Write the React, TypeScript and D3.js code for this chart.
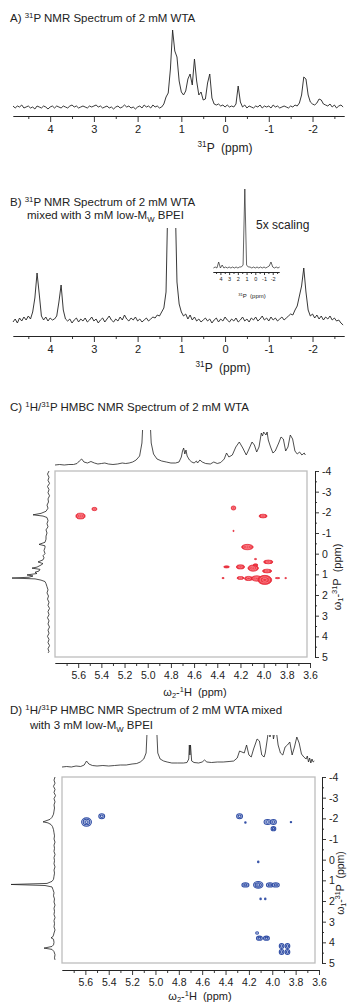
import { useRef, useEffect } from "react";
import * as d3 from "d3";

const FONT = "'Liberation Sans', Arial, Helvetica, sans-serif";
const INK = "#222";

// A/B: 31P 1D spectra, one value every 0.05 ppm from 4.85 ppm down to -2.70 ppm
const p1dStart = 4.85;
const p1dStep = 0.05;
const p1dTicks = [4, 3, 2, 1, 0, -1, -2];
const p1dMinor = [4.5, 3.5, 2.5, 1.5, 0.5, -0.5, -1.5, -2.5];

const wtaSpectrum = [
	1, -1, 1, 0, 2, -1, 0, 1, -1, 0,
	-2, 1, 0, -1, 1, 0, -2, 0, 1, -1,
	1, 0, -1, 1, 0, -1, 1, 2, 0, 1,
	-1, 0, 1, 0, -1, 1, 0, 1, 2, 0,
	1, -1, 0, 1, -1, 0, -2, 0, 1, -1,
	0, 2, 0, 1, -1, 0, -2, 0, 1, -1,
	2, 0, 1, -1, 2, 0, 1, -1, 0, 3,
	10, 14, 38, 77, 56, 50, 26, 15, 12, 16,
	28, 33, 22, 48, 26, 12, 15, 7, 8, 24,
	33, 9, 3, 2, 3, 1, 2, 0, 2, 0,
	1, 0, 3, 21, 5, 0, 2, -1, 1, 0,
	-1, 1, 0, 2, -1, 1, 0, 1, -1, 2,
	0, 1, -1, 0, 1, 0, -1, 1, 0, 2,
	1, 4, 12, 30, 28, 12, 5, 3, 2, 4,
	8, 7, 3, 2, 1, 3, 0, 2, -1, 1,
	2, 0,
];

const bpeiSpectrum = [
	0, 3, -1, 4, 1, 5, 2, 6, 3, 10,
	24, 49, 28, 6, 2, 5, 1, 4, 2, 3,
	6, 20, 37, 12, 3, 1, 3, -1, 2, 4,
	0, 3, 1, 4, 0, 2, 5, 1, 3, -1,
	2, 4, 0, 3, 6, 2, 0, 3, 1, 5,
	2, 7, 3, 1, 4, 2, 5, 1, 3, 0,
	2, 4, 1, 3, 5, 4, 7, 6, 10, 14,
	30, 140, 400, 400, 140, 40, 18, 10, 6, 8,
	3, 7, 2, 5, 1, 3, 0, 2, 4, 1,
	3, -1, 2, 4, 0, 3, 1, 5, 2, 0,
	3, 1, 4, 0, 2, 5, 1, 3, 0, 4,
	2, 5, 1, 3, 6, 2, 4, 1, 5, 2,
	4, 1, 3, 5, 2, 4, 6, 8, 7, 12,
	16, 26, 36, 54, 30, 12, 6, 8, 4, 7,
	3, 6, 2, 5, 3, 6, 2, 4, 1, 2,
	-1, -3,
];

// B inset (5x scaling): one value every 0.2 ppm from 4.8 ppm
const insetStart = 4.8;
const insetStep = 0.2;
const insetSpectrum = [
	0, 1, 0, 6, 0, 3, 0, 1, 0, 1, 0, 1, 0, 1, 0, 1, 1, 3, 79, 3,
	1, 1, 0, 1, 0, 1, 0, 1, 0, 1, 0, 1, 2, 6, 1, 0, 1, 0, 1,
];

// C/D: HMBC projections, [ppm, intensity]
const wtaHProj = [
	[5.8, 0], [5.76, 0.5], [5.72, 0], [5.68, 0.5], [5.64, 0.5], [5.61, 1.5], [5.59, 4], [5.57, 6],
	[5.55, 3], [5.52, 2], [5.49, 3.5], [5.46, 2], [5.43, 1], [5.4, 1.5], [5.37, 2], [5.34, 1],
	[5.3, 0.5], [5.26, 1], [5.22, 2], [5.19, 1.5], [5.16, 2], [5.13, 3], [5.1, 5], [5.07, 9],
	[5.05, 22], [5.03, 70], [5.02, 200], [5.0, 200], [4.99, 70], [4.97, 22], [4.95, 11], [4.92, 6],
	[4.88, 4], [4.84, 3], [4.8, 2], [4.76, 2], [4.73, 3], [4.71, 8], [4.7, 14], [4.69, 17],
	[4.68, 11], [4.67, 15], [4.66, 9], [4.64, 5], [4.62, 3], [4.6, 2], [4.58, 4], [4.57, 2],
	[4.55, 5], [4.53, 3], [4.5, 1.5], [4.46, 1], [4.43, 3], [4.4, 1.5], [4.37, 2.5], [4.34, 6],
	[4.32, 12], [4.3, 8], [4.27, 10], [4.24, 18], [4.21, 23], [4.18, 17], [4.15, 10], [4.13, 15],
	[4.1, 23], [4.08, 20], [4.06, 13], [4.04, 18], [4.02, 32], [4.01, 29], [4.0, 33], [3.98, 30],
	[3.97, 33], [3.96, 25], [3.94, 18], [3.92, 12], [3.9, 14], [3.87, 22], [3.85, 28], [3.83, 26],
	[3.81, 14], [3.79, 18], [3.77, 30], [3.75, 26], [3.73, 14], [3.71, 11], [3.69, 13], [3.67, 10],
	[3.65, 12], [3.64, 10],
];

const wtaPProj = [
	[-4.0, 0], [-3.85, 1.5], [-3.7, 0], [-3.55, 1], [-3.4, -0.5], [-3.25, 1.5], [-3.1, 0], [-2.95, 1],
	[-2.8, -0.5], [-2.65, 1], [-2.5, 0.5], [-2.35, 2], [-2.2, 1], [-2.05, 3], [-1.95, 8], [-1.88, 16],
	[-1.82, 6], [-1.75, 2], [-1.6, 1], [-1.45, 2], [-1.3, 1], [-1.15, 3], [-1.0, 2], [-0.85, 3],
	[-0.7, 3], [-0.55, 4], [-0.45, 10], [-0.38, 4], [-0.3, 4], [-0.15, 5], [0.0, 4], [0.1, 6],
	[0.2, 5], [0.3, 6], [0.4, 11], [0.48, 6], [0.55, 8], [0.65, 12], [0.7, 17], [0.76, 9],
	[0.84, 10], [0.9, 14], [0.96, 12], [1.03, 22], [1.08, 16], [1.14, 20], [1.18, 37], [1.22, 14],
	[1.28, 8], [1.35, 4], [1.45, 3], [1.6, 2], [1.75, 1], [1.9, 2], [2.05, 0.5], [2.2, 1.5],
	[2.35, 0], [2.5, 1], [2.65, -0.5], [2.8, 1], [2.95, 0], [3.1, 1.5], [3.25, 0], [3.4, 1],
	[3.55, -0.5], [3.7, 1], [3.85, 0], [4.0, 1.5], [4.15, 0], [4.3, 1], [4.45, -0.5], [4.6, 1],
	[4.75, 0], [4.8, 1],
];

const bpeiHProj = [
	[5.8, 0], [5.76, 0.5], [5.72, 0], [5.68, 1], [5.64, 0.5], [5.61, 2], [5.59, 6], [5.57, 3],
	[5.54, 1.5], [5.5, 1], [5.45, 1.5], [5.4, 1], [5.35, 1.5], [5.3, 2], [5.25, 2], [5.2, 3],
	[5.16, 3.5], [5.13, 5], [5.1, 8], [5.08, 14], [5.07, 40], [5.06, 200], [5.0, 200], [4.99, 40],
	[4.98, 14], [4.96, 8], [4.93, 6], [4.9, 5], [4.86, 4], [4.81, 4], [4.76, 4], [4.73, 4.5],
	[4.715, 8], [4.71, 22], [4.705, 12], [4.7, 22], [4.69, 6], [4.67, 4.5], [4.63, 4], [4.6, 5],
	[4.58, 7], [4.56, 5], [4.52, 4.5], [4.47, 5], [4.42, 5], [4.37, 5.5], [4.33, 6], [4.3, 9],
	[4.28, 16], [4.26, 15], [4.24, 14], [4.22, 22], [4.2, 12], [4.18, 10], [4.16, 18], [4.13, 28],
	[4.11, 26], [4.09, 12], [4.07, 10], [4.06, 14], [4.04, 30], [4.03, 40], [4.02, 30], [4.0, 40],
	[3.99, 28], [3.97, 40], [3.95, 22], [3.93, 14], [3.91, 12], [3.89, 20], [3.87, 22], [3.85, 25],
	[3.83, 12], [3.81, 20], [3.79, 30], [3.77, 24], [3.75, 13], [3.73, 10], [3.71, 8], [3.7, 11],
	[3.69, 5], [3.68, 9], [3.67, 4], [3.66, 8], [3.65, 5], [3.64, 6],
];

const bpeiPProj = [
	[-4.0, 0], [-3.85, 1], [-3.7, 0], [-3.55, 1.5], [-3.4, 0], [-3.25, 1], [-3.1, -0.5], [-2.95, 1],
	[-2.8, 0], [-2.65, 1], [-2.5, 0.5], [-2.35, 1], [-2.2, 1.5], [-2.05, 3], [-1.95, 5], [-1.88, 9],
	[-1.83, 12], [-1.78, 7], [-1.7, 4], [-1.6, 2.5], [-1.45, 1.5], [-1.3, 1], [-1.15, 0.5], [-1.0, 1],
	[-0.85, 0], [-0.7, 1], [-0.55, 0.5], [-0.4, 1], [-0.25, 0], [-0.1, 1], [0.05, 0.5], [0.2, 1],
	[0.35, 0], [0.5, 1], [0.65, 0.5], [0.8, 1], [0.95, 1.5], [1.05, 3], [1.15, 8], [1.2, 44],
	[1.25, 10], [1.32, 3], [1.45, 2], [1.6, 1], [1.75, 1.5], [1.9, 0.5], [2.05, 1], [2.2, 0],
	[2.35, 1], [2.5, 0.5], [2.65, 1], [2.8, 0], [2.95, 1], [3.1, 0.5], [3.25, 1], [3.4, 0],
	[3.55, 1], [3.65, 1.5], [3.72, 2], [3.78, 4], [3.85, 1.5], [4.0, 1], [4.12, 1.5], [4.2, 3],
	[4.28, 11], [4.34, 3], [4.45, 1], [4.6, 0], [4.75, 0.5], [4.85, 0],
];

// cross peaks: [1H ppm, 31P ppm, 1H half width, 31P half width, contour levels]
const wtaCross = [
	[5.58, -1.82, 0.04, 0.14, 3],
	[5.46, -2.16, 0.022, 0.08, 2],
	[4.26, -2.21, 0.02, 0.1, 2],
	[4.005, -1.82, 0.035, 0.09, 2],
	[4.26, -1.1, 0.006, 0.03, 1],
	[4.14, -0.32, 0.05, 0.13, 3],
	[4.07, 0.26, 0.01, 0.03, 1],
	[3.96, 0.4, 0.04, 0.09, 2],
	[4.32, 0.64, 0.025, 0.05, 1],
	[4.2, 0.64, 0.035, 0.1, 2],
	[4.09, 0.7, 0.045, 0.15, 3],
	[4.07, 0.55, 0.02, 0.06, 1],
	[3.97, 0.84, 0.04, 0.09, 2],
	[4.35, 1.18, 0.01, 0.03, 1],
	[4.2, 1.18, 0.03, 0.07, 2],
	[4.13, 1.2, 0.035, 0.1, 2],
	[4.06, 1.2, 0.045, 0.13, 3],
	[3.99, 1.27, 0.06, 0.22, 3],
	[3.88, 1.18, 0.02, 0.03, 1],
	[3.81, 1.18, 0.008, 0.02, 1],
];

const bpeiCross = [
	[5.59, -1.82, 0.042, 0.2, 3],
	[5.46, -2.1, 0.025, 0.12, 2],
	[4.28, -2.1, 0.025, 0.12, 2],
	[4.23, -1.8, 0.006, 0.03, 1],
	[4.04, -1.82, 0.03, 0.12, 2],
	[3.99, -1.82, 0.025, 0.12, 2],
	[3.99, -1.5, 0.02, 0.1, 2],
	[3.84, -1.82, 0.006, 0.03, 1],
	[4.12, 0.11, 0.006, 0.04, 1],
	[4.23, 1.22, 0.03, 0.1, 2],
	[4.12, 1.22, 0.04, 0.16, 3],
	[4.02, 1.22, 0.03, 0.1, 2],
	[3.97, 1.22, 0.03, 0.1, 2],
	[4.1, 1.9, 0.006, 0.04, 1],
	[4.06, 1.9, 0.006, 0.04, 1],
	[4.13, 3.55, 0.012, 0.06, 1],
	[4.11, 3.8, 0.025, 0.1, 2],
	[4.05, 3.8, 0.025, 0.1, 2],
	[3.92, 4.18, 0.02, 0.12, 2],
	[3.87, 4.18, 0.02, 0.12, 2],
	[3.92, 4.47, 0.02, 0.12, 2],
	[3.87, 4.47, 0.02, 0.12, 2],
];

const hTicks = [5.6, 5.4, 5.2, 5.0, 4.8, 4.6, 4.4, 4.2, 4.0, 3.8, 3.6];
const hMinor = [5.7, 5.5, 5.3, 5.1, 4.9, 4.7, 4.5, 4.3, 4.1, 3.9, 3.7];
const pTicks2d = [-4, -3, -2, -1, 0, 1, 2, 3, 4, 5];
const pMinor2d = [-3.5, -2.5, -1.5, -0.5, 0.5, 1.5, 2.5, 3.5, 4.5];

function addText(parent, x, y, parts, size, anchor = "start", transform = null) {
	const t = parent
		.append("text")
		.attr("x", x)
		.attr("y", y)
		.attr("font-family", FONT)
		.attr("font-size", size)
		.attr("fill", INK)
		.attr("text-anchor", anchor)
		.style("white-space", "pre");
	if (transform) t.attr("transform", transform);
	let shift = 0;
	parts.forEach((part) => {
		const [str, kind] = typeof part === "string" ? [part, ""] : part;
		const target = kind === "sup" ? -size * 0.38 : kind === "sub" ? size * 0.22 : 0;
		const ts = t.append("tspan").text(str).attr("dy", target - shift);
		if (kind) ts.attr("font-size", size * 0.68);
		shift = target;
	});
	return t;
}

function styleAxis(g, fontSize) {
	g.select(".domain").attr("stroke", INK).attr("stroke-width", 0.9);
	g.selectAll(".tick line").attr("stroke", INK).attr("stroke-width", 0.9);
	g.selectAll("text").attr("font-family", FONT).attr("font-size", fontSize).attr("fill", INK);
}

function bottomAxis(svg, scale, y, major, minor, majorLen, minorLen, pad, fontSize, fmt) {
	const gMinor = svg
		.append("g")
		.attr("transform", `translate(0,${y})`)
		.call(d3.axisBottom(scale).tickValues(minor).tickSize(minorLen).tickSizeOuter(0).tickFormat(() => ""));
	const gMajor = svg
		.append("g")
		.attr("transform", `translate(0,${y})`)
		.call(d3.axisBottom(scale).tickValues(major).tickSize(majorLen).tickSizeOuter(0).tickPadding(pad).tickFormat(fmt));
	styleAxis(gMinor, fontSize);
	styleAxis(gMajor, fontSize);
}

function rightAxis(svg, scale, x, fontSize) {
	const gMinor = svg
		.append("g")
		.attr("transform", `translate(${x},0)`)
		.call(d3.axisRight(scale).tickValues(pMinor2d).tickSize(2).tickSizeOuter(0).tickFormat(() => ""));
	const gMajor = svg
		.append("g")
		.attr("transform", `translate(${x},0)`)
		.call(d3.axisRight(scale).tickValues(pTicks2d).tickSize(4).tickSizeOuter(0).tickPadding(3).tickFormat((d) => String(d)));
	styleAxis(gMinor, fontSize);
	styleAxis(gMajor, fontSize);
}

function clipRect(defs, id, x, y, w, h) {
	defs.append("clipPath").attr("id", id).append("rect").attr("x", x).attr("y", y).attr("width", w).attr("height", h);
	return `url(#${id})`;
}

function tracePath(svg, pts, xf, yf, width, clip) {
	const p = svg
		.append("path")
		.datum(pts)
		.attr("fill", "none")
		.attr("stroke", INK)
		.attr("stroke-width", width)
		.attr("stroke-linejoin", "round")
		.attr("d", d3.line().x(xf).y(yf));
	if (clip) p.attr("clip-path", clip);
}

function crossPeaks(svg, peaks, xs, ys, colour) {
	const g = svg.append("g");
	peaks.forEach(([h, p, wh, wp, lv]) => {
		const cx = xs(h);
		const cy = ys(p);
		const rx = Math.abs(xs(h + wh) - cx);
		const ry = Math.abs(ys(p + wp) - cy);
		for (let k = lv; k >= 1; k--) {
			const e = g
				.append("ellipse")
				.attr("cx", cx)
				.attr("cy", cy)
				.attr("rx", Math.max(0.6, (rx * k) / lv))
				.attr("ry", Math.max(0.6, (ry * k) / lv));
			if (colour === "red") {
				e.attr("fill", k === lv ? "#ee3a45" : "none")
					.attr("stroke", k === lv ? "#e3202f" : "#ff9ca4")
					.attr("stroke-width", k === lv ? 0.7 : 0.6);
			} else {
				e.attr("fill", k === lv ? "#dfe5f5" : "none").attr("stroke", "#3350a6").attr("stroke-width", 1.1);
			}
		}
	});
}

export default function App() {
	const svgRef = useRef(null);

	useEffect(() => {
		const svg = d3.select(svgRef.current);
		svg.selectAll("*").remove();
		const defs = svg.append("defs");

		// ---------- A ----------
		const x1d = d3.scaleLinear().domain([4.85, -2.72]).range([13, 344]);
		const yA = d3.scaleLinear().domain([0, 100]).range([107, 7]);
		addText(svg, 10, 22, ["A) ", ["31", "sup"], "P NMR Spectrum of 2 mM WTA"], 11.5);
		tracePath(
			svg,
			wtaSpectrum.map((v, i) => [p1dStart - i * p1dStep, v]),
			(d) => x1d(d[0]),
			(d) => yA(d[1]),
			0.9,
			null
		);
		bottomAxis(svg, x1d, 116, p1dTicks, p1dMinor, 6, 3, 3, 11, (d) => String(d));
		addText(svg, 225, 152, [["31", "sup"], "P  (ppm)"], 12, "middle");

		// ---------- B ----------
		const yB = d3.scaleLinear().domain([0, 100]).range([322, 222]);
		addText(svg, 10, 206, ["B) ", ["31", "sup"], "P NMR Spectrum of 2 mM WTA"], 11.5);
		addText(svg, 27, 219, ["mixed with 3 mM low-M", ["W", "sub"], " BPEI"], 11.5);
		const clipB = clipRect(defs, "clipB", 0, 228, 347, 110);
		tracePath(
			svg,
			bpeiSpectrum.map((v, i) => [p1dStart - i * p1dStep, v]),
			(d) => x1d(d[0]),
			(d) => yB(d[1]),
			0.9,
			clipB
		);
		bottomAxis(svg, x1d, 336, p1dTicks, p1dMinor, 6, 3, 3, 11, (d) => String(d));
		addText(svg, 223, 372, [["31", "sup"], "P  (ppm)"], 12, "middle");

		// inset
		const xIn = d3.scaleLinear().domain([4.85, -2.72]).range([213, 279]);
		const yIn = d3.scaleLinear().domain([0, 100]).range([268, 168]);
		tracePath(
			svg,
			insetSpectrum.map((v, i) => [insetStart - i * insetStep, v]),
			(d) => xIn(d[0]),
			(d) => yIn(d[1]),
			0.7,
			null
		);
		bottomAxis(svg, xIn, 272, p1dTicks, p1dMinor, 3, 2, 2, 5.5, (d) => String(d));
		addText(svg, 252, 298, [["31", "sup"], "P  (ppm)"], 6, "middle");
		addText(svg, 256, 229, ["5x scaling"], 12);

		// ---------- C ----------
		addText(svg, 10, 411, ["C) ", ["1", "sup"], "H/", ["31", "sup"], "P HMBC NMR Spectrum of 2 mM WTA"], 11.5);
		const hC = d3.scaleLinear().domain([5.8, 3.6]).range([55, 310]);
		const pC = d3.scaleLinear().domain([-4, 5]).range([471, 657]);
		const clipC = clipRect(defs, "clipC", 0, 430, 347, 40);
		tracePath(svg, wtaHProj, (d) => hC(d[0]), (d) => 465 - d[1], 0.8, clipC);
		tracePath(svg, wtaPProj, (d) => 49 - d[1], (d) => pC(d[0]), 0.8, null);
		svg.append("rect").attr("x", 55).attr("y", 471).attr("width", 252).attr("height", 186)
			.attr("fill", "none").attr("stroke", "#bdbdbd").attr("stroke-width", 1.3);
		crossPeaks(svg, wtaCross, hC, pC, "red");
		bottomAxis(svg, hC, 663, hTicks, hMinor, 5, 3, 4, 10.5, d3.format(".1f"));
		rightAxis(svg, pC, 315, 10.5);
		addText(svg, 195, 696, ["\u03c9", ["2", "sub"], "-", ["1", "sup"], "H  (ppm)"], 11, "middle");
		addText(svg, 0, 0, ["\u03c9", ["1", "sub"], "-", ["31", "sup"], "P  (ppm)"], 11, "middle", "translate(341,577) rotate(-90)");

		// ---------- D ----------
		addText(svg, 10, 714, ["D) ", ["1", "sup"], "H/", ["31", "sup"], "P HMBC NMR Spectrum of 2 mM WTA mixed"], 11.5);
		addText(svg, 30, 729, ["with 3 mM low-M", ["W", "sub"], " BPEI"], 11.5);
		const hD = d3.scaleLinear().domain([5.8, 3.6]).range([62, 319]);
		const pD = d3.scaleLinear().domain([-4, 5]).range([777, 963]);
		const clipD = clipRect(defs, "clipD", 0, 735, 347, 40);
		tracePath(svg, bpeiHProj, (d) => hD(d[0]), (d) => 767 - d[1], 0.8, clipD);
		tracePath(svg, bpeiPProj, (d) => 55 - d[1], (d) => pD(d[0]), 0.8, null);
		svg.append("rect").attr("x", 62).attr("y", 777).attr("width", 253).attr("height", 186)
			.attr("fill", "none").attr("stroke", "#bdbdbd").attr("stroke-width", 1.3);
		crossPeaks(svg, bpeiCross, hD, pD, "blue");
		bottomAxis(svg, hD, 970, hTicks, hMinor, 5, 3, 4, 10.5, d3.format(".1f"));
		rightAxis(svg, pD, 322, 10.5);
		addText(svg, 200, 1000, ["\u03c9", ["2", "sub"], "-", ["1", "sup"], "H  (ppm)"], 11, "middle");
		addText(svg, 0, 0, ["\u03c9", ["1", "sub"], "-", ["31", "sup"], "P  (ppm)"], 10.5, "middle", "translate(344,883) rotate(-90)");

		return () => {
			d3.select(svgRef.current).selectAll("*").remove();
		};
	}, []);

	return (
		<svg
			ref={svgRef}
			width={347}
			height={1003}
			style={{ position: "absolute", left: 0, top: 0, background: "#fff" }}
		></svg>
	);
}
